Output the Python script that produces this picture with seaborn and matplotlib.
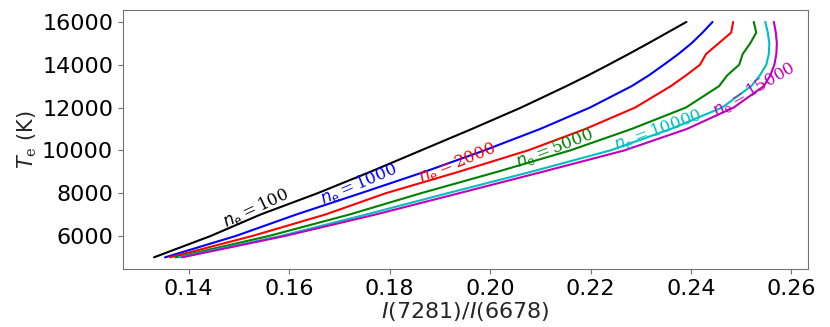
import numpy as np
import pandas as pd
import matplotlib
matplotlib.use("Agg")
import matplotlib.pyplot as plt
import seaborn as sns

# --- DATA ---
temps = [5000, 6000, 7000, 8000, 9000, 10000, 11000, 12000, 13000,
         13500, 14000, 14500, 15000, 15500, 16000]

ratio_100 = [0.1331, 0.1444, 0.1543, 0.1657, 0.1762, 0.1863, 0.1964, 0.2062,
             0.2152, 0.2195, 0.2236, 0.2276, 0.2315, 0.2353, 0.2391]
ratio_1000 = [0.1353, 0.1494, 0.1614, 0.1743, 0.1870, 0.1989, 0.2100, 0.2199,
              0.2282, 0.2316, 0.2346, 0.2375, 0.2401, 0.2423, 0.2443]
ratio_2000 = [0.1363, 0.1527, 0.1672, 0.1793, 0.1938, 0.2076, 0.2190, 0.2289,
              0.2360, 0.2390, 0.2418, 0.2430, 0.2455, 0.2480, 0.2484]
ratio_5000 = [0.1374, 0.1560, 0.1720, 0.1863, 0.2015, 0.2160, 0.2282, 0.2390,
              0.2456, 0.2472, 0.2496, 0.2503, 0.2518, 0.2530, 0.2525]
ratio_10000 = [0.1381, 0.1584, 0.1753, 0.1916, 0.2082, 0.2240, 0.2360, 0.2462,
               0.2520, 0.2537, 0.2550, 0.2555, 0.2556, 0.2553, 0.2548]
ratio_15000 = [0.1387, 0.1592, 0.1772, 0.1939, 0.2105, 0.2268, 0.2392, 0.2485,
               0.2545, 0.2558, 0.2566, 0.2570, 0.2571, 0.2569, 0.2565]

densities = ["100", "1000", "2000", "5000", "10000", "15000"]
colors = ["k", "b", "r", "g", "c", "m"]
series = [ratio_100, ratio_1000, ratio_2000, ratio_5000, ratio_10000, ratio_15000]

# label anchor (x, T) and rotation for each curve
label_x = [0.1534, 0.1739, 0.1935, 0.2128, 0.2334, 0.2525]
label_t = [7300, 8450, 9420, 10100, 10980, 12850]
label_rot = [25, 23, 22, 21, 20, 30]

# --- LONG FORM ---
rows = []
for ne, vals in zip(densities, series):
    for t, r in zip(temps, vals):
        rows.append({"ne": ne, "ratio": r, "Te": t})
df = pd.DataFrame(rows)

# --- STYLE ---
sns.set_style("ticks", {"axes.edgecolor": "0.45", "xtick.color": "0.45",
                        "ytick.color": "0.45"})
plt.rcParams["font.family"] = ["DejaVu Sans"]
plt.rcParams["mathtext.fontset"] = "custom"
plt.rcParams["mathtext.rm"] = "DejaVu Serif"
plt.rcParams["mathtext.it"] = "DejaVu Sans:italic"

fig, ax = plt.subplots(figsize=(8.3, 3.27), dpi=100)
fig.subplots_adjust(left=0.148, right=0.9735, top=0.969, bottom=0.177)

sns.lineplot(data=df, x="ratio", y="Te", hue="ne", hue_order=densities,
             palette=dict(zip(densities, colors)), sort=False, estimator=None,
             linewidth=1.5, legend=False, ax=ax)

for ne, c, lx, lt, rot in zip(densities, colors, label_x, label_t, label_rot):
    ax.text(lx, lt, r"$n_{\rm e} = %s$" % ne, color=c, fontsize=12,
            rotation=rot, ha="center", va="center", rotation_mode="anchor")

ax.set_xlabel(r"$I$(7281)/$I$(6678)", fontsize=16, labelpad=1)
ax.set_ylabel(r"$T_{\rm e}$ (K)", fontsize=15, labelpad=2)
ax.set_xticks([0.14, 0.16, 0.18, 0.20, 0.22, 0.24, 0.26])
ax.set_yticks([6000, 8000, 10000, 12000, 14000, 16000])
ax.tick_params(labelsize=16, labelcolor="black", length=3.5)
for s in ax.spines.values():
    s.set_visible(True)

plt.savefig("out.png", dpi=100)
